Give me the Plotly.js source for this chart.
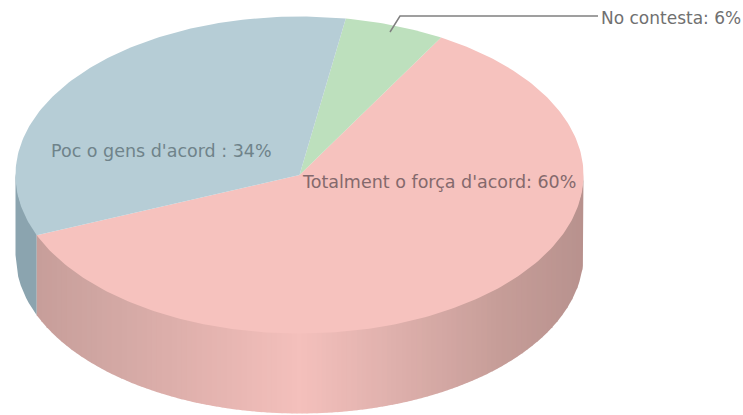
<!DOCTYPE html>
<html><head><meta charset="utf-8">
<script src="https://cdn.plot.ly/plotly-3.0.1.min.js"></script>
<style>html,body{margin:0;padding:0;background:#fff}#c{width:743px;height:415px}</style>
</head><body><div id="c"></div>
<script>
const categories = ["Totalment o força d'acord", "No contesta", "Poc o gens d'acord"];
const shares = [60.5, 5.7, 33.8];
const labels = ["Totalment o força d'acord: 60%", "No contesta: 6%", "Poc o gens d'acord : 34%"];
const topColors = ["#f6c2be", "#bde0bd", "#b6cdd6"];
const sideStopX = [38, 100, 200, 300, 400, 500, 583];
const sideStopC = [[199,158,154],[208,166,162],[226,178,174],[244,192,188],[221,175,171],[198,157,152],[184,146,142]];
const blueSide = "#8ba4af";

const cx = 299.5, cy = 175, rx = 284, ry = 158.5, depth = 80, startDeg = 202.3;
const traces = [];
const rad = d => d * Math.PI / 180;
function frontY(x){ const u = Math.min(1, Math.abs((x - cx) / rx)); return cy + ry * Math.sqrt(1 - u * u); }
function sideColor(x){
  for (let i = 0; i < sideStopX.length - 1; i++) {
    if (x <= sideStopX[i + 1]) {
      const t = Math.max(0, (x - sideStopX[i]) / (sideStopX[i + 1] - sideStopX[i]));
      const c = sideStopC[i].map((v, k) => Math.round(v + (sideStopC[i + 1][k] - v) * t));
      return `rgb(${c})`;
    }
  }
  return `rgb(${sideStopC[sideStopC.length - 1]})`;
}
function band(x0, x1, color){
  const xs = [], ys = [];
  const n = 8;
  for (let i = 0; i <= n; i++){ const x = x0 + (x1 - x0) * i / n; xs.push(x); ys.push(frontY(x) - 2); }
  for (let i = n; i >= 0; i--){ const x = x0 + (x1 - x0) * i / n; xs.push(x); ys.push(frontY(x) + depth); }
  traces.push({type:'scatter', mode:'lines', x:xs, y:ys, fill:'toself', fillcolor:color, line:{width:0}, hoverinfo:'skip', showlegend:false});
}
// side wall
const total = shares.reduce((a, b) => a + b, 0);
const pinkSideStart = cx + rx * Math.cos(rad(startDeg));
band(cx - rx, pinkSideStart, blueSide);
for (let x = pinkSideStart; x < cx + rx; x += 5) band(x, Math.min(x + 5.6, cx + rx), sideColor(x + 2.5));

// top face: slices run counterclockwise on screen from the lower left boundary
let a = startDeg;
shares.forEach((v, i) => {
  const sweep = v / total * 360;
  const xs = [cx], ys = [cy];
  const steps = Math.ceil(sweep);
  for (let s = 0; s <= steps; s++){
    const t = rad(a + sweep * s / steps);
    xs.push(cx + rx * Math.cos(t)); ys.push(cy - ry * Math.sin(t));
  }
  xs.push(cx); ys.push(cy);
  a += sweep;
  traces.push({type:'scatter', mode:'lines', name:categories[i], x:xs, y:ys, fill:'toself', fillcolor:topColors[i], line:{width:0}, hoverinfo:'skip', showlegend:false});
});

const layout = {
  width:743, height:415, margin:{l:0,r:0,t:0,b:0}, paper_bgcolor:'#fff', plot_bgcolor:'#fff',
  xaxis:{range:[0,743], visible:false, fixedrange:true},
  yaxis:{range:[415,0], visible:false, fixedrange:true},
  shapes:[{type:'path', path:'M 390 32 L 400 16 L 598 16', line:{color:'#808080', width:1.5}}],
  annotations:[
    {x:300, y:182, text:labels[0], xanchor:'left', yanchor:'middle', showarrow:false, font:{family:'DejaVu Sans', size:17.5, color:'#84696c'}},
    {x:599, y:18, text:labels[1], xanchor:'left', yanchor:'middle', showarrow:false, font:{family:'DejaVu Sans', size:17, color:'#707070'}},
    {x:49, y:151, text:labels[2], xanchor:'left', yanchor:'middle', showarrow:false, font:{family:'DejaVu Sans', size:17.5, color:'#6f838a'}}
  ]
};
Plotly.newPlot('c', traces, layout, {displayModeBar:false, staticPlot:true});
</script></body></html>
